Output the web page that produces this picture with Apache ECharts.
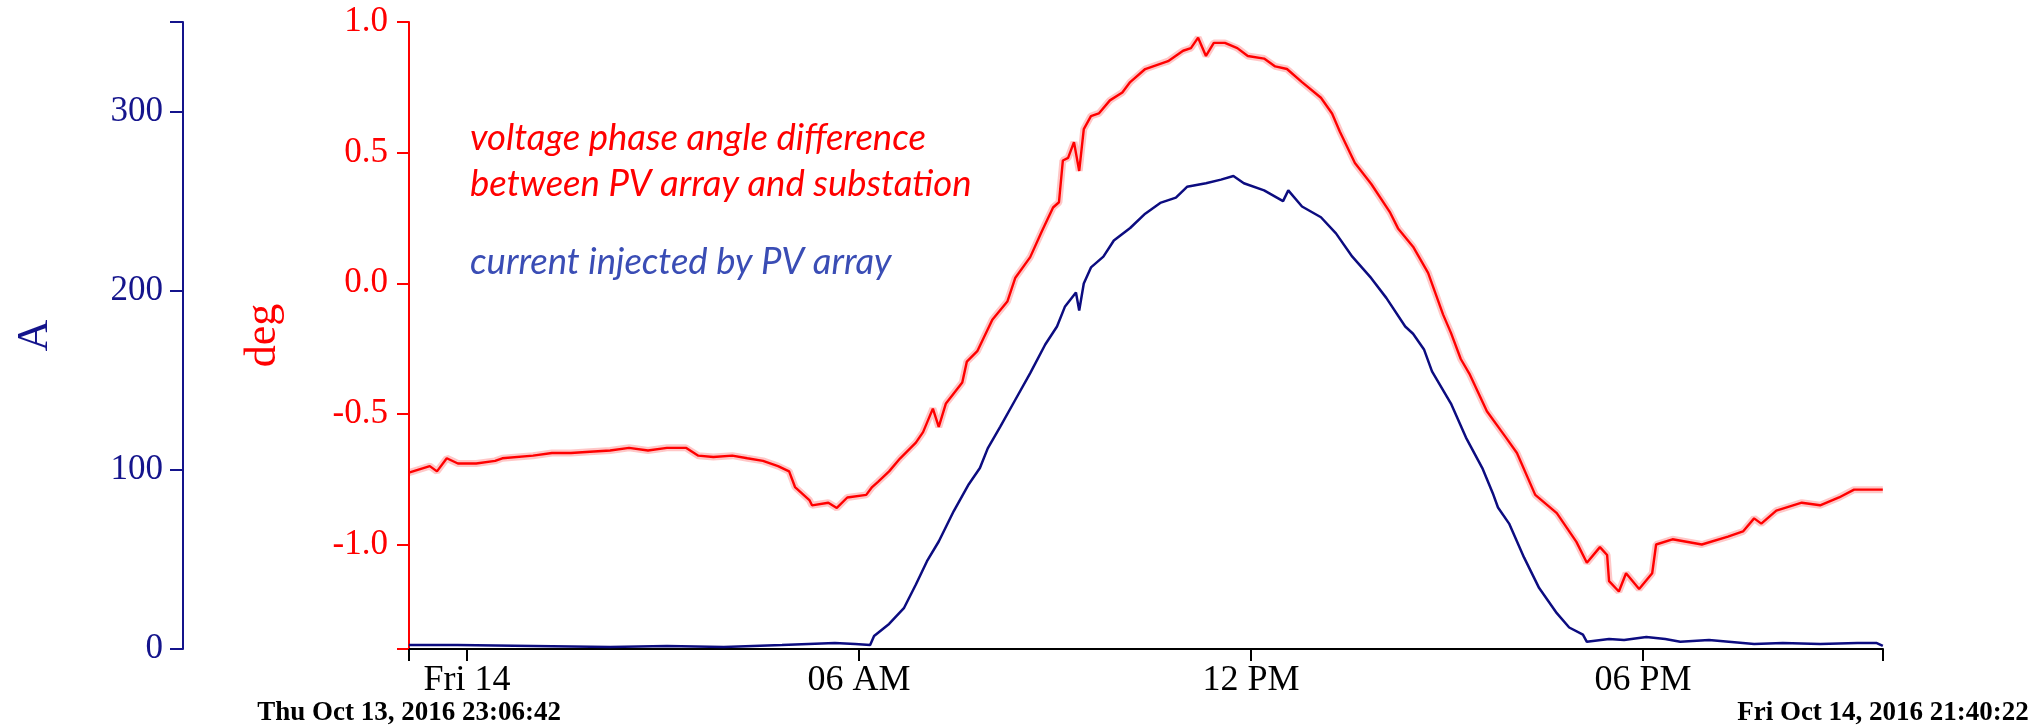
<!DOCTYPE html>
<html lang="en">
<head>
<meta charset="UTF-8">
<title>PV array phase angle and current</title>
<script src="https://cdn.jsdelivr.net/npm/echarts@6/dist/echarts.min.js"></script>
<style>
  html, body { margin: 0; padding: 0; background: #fff; }
  #main { width: 2031px; height: 728px; }
</style>
</head>
<body>
<div id="main"></div>
<script type="text/javascript">
// time is in hours from midnight of Fri Oct 14, 2016
var startHour = -0.8883;   // Thu Oct 13, 2016 23:06:42
var endHour = 21.6728;     // Fri Oct 14, 2016 21:40:22
var startLabel = 'Thu Oct 13, 2016 23:06:42';
var endLabel = 'Fri Oct 14, 2016 21:40:22';

var xTickHours = [0, 6, 12, 18];
var xTickLabels = ['Fri 14', '06 AM', '12 PM', '06 PM'];
var ampTicks = [0, 100, 200, 300];
var degTicks = [-1.0, -0.5, 0.0, 0.5, 1.0];

// voltage phase angle difference (deg)
var phaseData = [
    [-0.89, -0.725], [-0.57, -0.70], [-0.46, -0.72], [-0.31, -0.67], [-0.14, -0.69],
    [0.14, -0.69], [0.43, -0.68], [0.54, -0.67], [1.01, -0.66], [1.30, -0.65],
    [1.59, -0.65], [1.88, -0.645], [2.19, -0.64], [2.48, -0.63], [2.77, -0.64],
    [3.06, -0.63], [3.35, -0.63], [3.54, -0.66], [3.77, -0.665], [4.06, -0.66],
    [4.29, -0.67], [4.53, -0.68], [4.76, -0.70], [4.93, -0.72], [5.02, -0.78],
    [5.24, -0.83], [5.28, -0.85], [5.53, -0.84], [5.66, -0.86], [5.82, -0.82],
    [6.11, -0.81], [6.20, -0.78], [6.29, -0.76], [6.46, -0.72], [6.63, -0.67],
    [6.87, -0.61], [6.98, -0.57], [7.13, -0.48], [7.22, -0.55], [7.33, -0.46],
    [7.58, -0.38], [7.65, -0.30], [7.81, -0.26], [8.04, -0.14], [8.27, -0.07],
    [8.39, 0.02], [8.62, 0.10], [8.80, 0.20], [8.97, 0.29], [9.06, 0.31],
    [9.12, 0.47], [9.20, 0.48], [9.29, 0.54], [9.37, 0.43], [9.44, 0.59],
    [9.55, 0.64], [9.67, 0.65], [9.84, 0.70], [10.03, 0.73], [10.15, 0.77],
    [10.38, 0.82], [10.61, 0.84], [10.73, 0.85], [10.96, 0.89], [11.08, 0.90],
    [11.19, 0.94], [11.31, 0.87], [11.43, 0.92], [11.60, 0.92], [11.79, 0.90],
    [11.95, 0.87], [12.20, 0.86], [12.37, 0.83], [12.55, 0.82], [12.78, 0.77],
    [13.07, 0.71], [13.24, 0.65], [13.36, 0.58], [13.59, 0.46], [13.84, 0.38],
    [14.13, 0.27], [14.25, 0.21], [14.48, 0.14], [14.71, 0.04], [14.94, -0.12],
    [15.06, -0.19], [15.21, -0.29], [15.35, -0.35], [15.61, -0.49], [15.90, -0.59],
    [16.07, -0.65], [16.35, -0.81], [16.68, -0.88], [16.98, -0.99], [17.14, -1.07],
    [17.34, -1.01], [17.45, -1.04], [17.48, -1.14], [17.63, -1.18], [17.74, -1.11],
    [17.94, -1.17], [18.14, -1.11], [18.20, -1.00], [18.45, -0.98], [18.90, -1.00],
    [19.30, -0.97], [19.53, -0.95], [19.70, -0.90], [19.81, -0.92], [20.04, -0.87],
    [20.43, -0.84], [20.71, -0.85], [21.00, -0.82], [21.23, -0.79], [21.46, -0.79],
    [21.67, -0.79]
];

// current injected by PV array (A)
var currentData = [
    [-0.89, 2.2], [-0.15, 2.2], [1.01, 1.7], [2.19, 1.1], [3.06, 1.7],
    [3.93, 1.1], [4.82, 2.2], [5.63, 3.4], [5.94, 2.8], [6.17, 2.2],
    [6.23, 7.3], [6.46, 14], [6.69, 23], [6.87, 36], [7.04, 49],
    [7.22, 60], [7.45, 77], [7.68, 92], [7.85, 101], [7.97, 112],
    [8.16, 124], [8.39, 139], [8.62, 154], [8.85, 170], [9.03, 180],
    [9.15, 191], [9.32, 199], [9.37, 189], [9.44, 204], [9.55, 213],
    [9.74, 219], [9.90, 228], [10.15, 235], [10.38, 243], [10.61, 249],
    [10.85, 252], [11.02, 258], [11.31, 260], [11.54, 262], [11.73, 264],
    [11.89, 260], [12.20, 256], [12.49, 250], [12.57, 256], [12.78, 247],
    [13.07, 241], [13.30, 232], [13.55, 219], [13.84, 207], [14.07, 196],
    [14.36, 180], [14.48, 176], [14.65, 167], [14.77, 155], [15.06, 137],
    [15.29, 118], [15.54, 101], [15.70, 87], [15.78, 79], [15.95, 70],
    [16.18, 51], [16.41, 34], [16.68, 20], [16.87, 12], [17.08, 8],
    [17.14, 4], [17.48, 5.6], [17.71, 5], [18.05, 6.7], [18.34, 5.6],
    [18.57, 4], [19.01, 5], [19.70, 2.8], [20.14, 3.4], [20.71, 2.8],
    [21.28, 3.4], [21.57, 3.4], [21.67, 1.7]
];

var serif = 'Liberation Serif';
var myChart = echarts.init(document.getElementById('main'));

myChart.setOption({
    animation: false,
    backgroundColor: '#ffffff',
    grid: { left: 409, right: 148, top: 22, bottom: 79 },
    xAxis: {
        type: 'value',
        min: startHour,
        max: endHour,
        axisLine: { onZero: false, lineStyle: { color: '#000', width: 2 } },
        axisTick: {
            length: 12,
            lineStyle: { color: '#000', width: 2 },
            customValues: [startHour].concat(xTickHours, [endHour])
        },
        axisLabel: {
            customValues: xTickHours,
            formatter: function (v) {
                var i = xTickHours.indexOf(v);
                return i < 0 ? '' : xTickLabels[i];
            },
            color: '#000',
            fontFamily: serif,
            fontSize: 36,
            margin: 14
        },
        splitLine: { show: false }
    },
    yAxis: [
        {
            type: 'value',
            min: 0,
            max: 350,
            position: 'left',
            offset: 226,
            name: 'A',
            nameLocation: 'middle',
            nameRotate: 90,
            nameGap: 126,
            nameTextStyle: { color: '#14148c', fontFamily: serif, fontSize: 44 },
            axisLine: { show: true, onZero: false, lineStyle: { color: '#14148c', width: 2 } },
            axisTick: {
                show: true,
                length: 13,
                lineStyle: { color: '#14148c', width: 2 },
                customValues: ampTicks.concat([350])
            },
            axisLabel: {
                customValues: ampTicks,
                color: '#14148c',
                fontFamily: serif,
                fontSize: 35,
                margin: 20
            },
            splitLine: { show: false }
        },
        {
            type: 'value',
            min: -1.4,
            max: 1.0,
            position: 'left',
            offset: 0,
            name: 'deg',
            nameLocation: 'middle',
            nameRotate: 90,
            nameGap: 124,
            nameTextStyle: { color: '#ff0000', fontFamily: serif, fontSize: 44 },
            axisLine: { show: true, onZero: false, lineStyle: { color: '#ff0000', width: 2 } },
            axisTick: {
                show: true,
                length: 12,
                lineStyle: { color: '#ff0000', width: 2 },
                customValues: [-1.4].concat(degTicks)
            },
            axisLabel: {
                customValues: degTicks,
                formatter: function (v) { return v.toFixed(1); },
                color: '#ff0000',
                fontFamily: serif,
                fontSize: 35,
                margin: 21
            },
            splitLine: { show: false }
        }
    ],
    series: [
        {
            // pale envelope around the phase trace
            type: 'line',
            yAxisIndex: 1,
            data: phaseData,
            symbol: 'none',
            silent: true,
            lineStyle: { color: 'rgba(255, 0, 0, 0.22)', width: 7 },
            z: 1
        },
        {
            type: 'line',
            yAxisIndex: 1,
            data: phaseData,
            symbol: 'none',
            lineStyle: { color: '#ff0000', width: 2.4 },
            z: 2
        },
        {
            type: 'line',
            yAxisIndex: 0,
            data: currentData,
            symbol: 'none',
            lineStyle: { color: '#0c0c80', width: 2.5 },
            z: 3
        }
    ]
});

// texts placed relative to the axes
var x0 = myChart.convertToPixel({ xAxisIndex: 0 }, startHour);
var x1 = myChart.convertToPixel({ xAxisIndex: 0 }, endHour);
var annoFont = 'Lato';
var annoSize = 36.5;

myChart.setOption({
    graphic: [
        { type: 'text', x: 470, y: 138, style: { text: 'voltage phase angle difference', fill: '#ff0000', fontFamily: annoFont, fontStyle: 'italic', fontSize: annoSize, verticalAlign: 'middle' } },
        { type: 'text', x: 470, y: 184, style: { text: 'between PV array and substation', fill: '#ff0000', fontFamily: annoFont, fontStyle: 'italic', fontSize: annoSize, verticalAlign: 'middle' } },
        { type: 'text', x: 470, y: 262, style: { text: 'current injected by PV array', fill: '#3a4db5', fontFamily: annoFont, fontStyle: 'italic', fontSize: annoSize, verticalAlign: 'middle' } },
        { type: 'text', x: x0, y: 713, style: { text: startLabel, fill: '#000', fontFamily: serif, fontWeight: 'bold', fontSize: 27, align: 'center', verticalAlign: 'middle' } },
        { type: 'text', x: x1, y: 713, style: { text: endLabel, fill: '#000', fontFamily: serif, fontWeight: 'bold', fontSize: 27, align: 'center', verticalAlign: 'middle' } }
    ]
});
</script>
</body>
</html>
